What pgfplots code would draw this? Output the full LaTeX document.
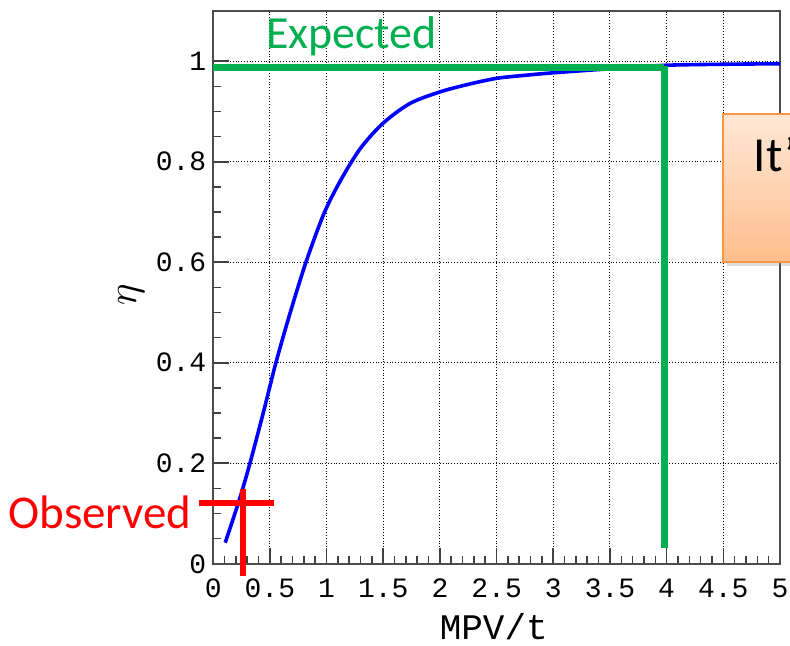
\documentclass[border=0pt]{standalone}
\usepackage{pgfplots}
\pgfplotsset{compat=1.18}
\usepackage{fontspec}
\usetikzlibrary{shadows}
\setmainfont{Carlito}
\newfontfamily\monofont{Liberation Mono}
\newfontfamily\calibri{Carlito}
\definecolor{pptgreen}{RGB}{0,176,80}
\definecolor{pptorange}{RGB}{247,150,70}
\definecolor{boxtop}{RGB}{255,232,215}
\definecolor{boxbot}{RGB}{255,190,140}
\begin{document}
\begin{tikzpicture}
\begin{axis}[
  name=ax,
  scale only axis,
  width=283.5pt, height=276.5pt,
  xmin=0, xmax=5, ymin=0, ymax=1.1,
  xtick={0,0.5,1,1.5,2,2.5,3,3.5,4,4.5,5},
  ytick={0,0.2,0.4,0.6,0.8,1},
  minor x tick num=4, minor y tick num=3,
  tick align=inside,
  xtick pos=bottom, ytick pos=left,
  major tick length=8pt, minor tick length=4pt,
  grid=major,
  major grid style={densely dotted, black, line width=0.5pt},
  axis line style={line width=1pt, black!70},
  every tick/.style={black!75, line width=0.8pt},
  clip=false,
  /pgf/number format/assume math mode=true,
  ticklabel style={font=\monofont\fontsize{14}{16}\selectfont},
  xticklabel style={yshift=-4pt},
  xlabel={MPV/t},
  xlabel style={font=\monofont\fontsize{18}{20}\selectfont, at={(axis description cs:0.495,0)}, anchor=base, yshift=-38pt},
  ylabel={$\eta$},
  ylabel style={font=\fontsize{22}{24}\selectfont, at={(axis description cs:0,0.512)}, anchor=center, yshift=41pt, xshift=-7pt},
]
\addplot[blue, line width=1.8pt, smooth, tension=0.5] coordinates {
(0.106,0.042) (0.23,0.127) (0.324,0.200) (0.441,0.300) (0.553,0.400)
(0.677,0.498) (0.818,0.600) (0.977,0.697) (1.124,0.763) (1.3,0.827)
(1.5,0.877) (1.736,0.916) (2.0,0.939) (2.25,0.954) (2.5,0.966)
(2.75,0.972) (3.0,0.977) (3.5,0.985) (4.0,0.992) (4.5,0.994) (5.0,0.995)};
\addplot[pptgreen, line width=3.5pt] coordinates {(0,0.988) (3.98,0.988)};
\addplot[pptgreen, line width=3.5pt] coordinates {(3.98,0.991) (3.98,0.032)};
\addplot[red, line width=3pt] coordinates {(-0.126,0.121) (0.536,0.121)};
\addplot[red, line width=3pt] coordinates {(0.262,0.149) (0.262,-0.024)};
\node[anchor=base, inner sep=0pt, text=pptgreen, font=\calibri\fontsize{23}{26}\selectfont] at (axis cs:1.22,1.025) {Expected};
\node[anchor=base east, inner sep=0pt, text=red, font=\calibri\fontsize{23.5}{26}\selectfont] at (axis cs:-0.188,0.070) {Observed};
\draw[pptorange, line width=1pt, top color=boxtop, bottom color=boxbot,
  drop shadow={opacity=0.25, shadow xshift=2pt, shadow yshift=-2pt}]
  (axis cs:4.501,0.600) rectangle (axis cs:5.9,0.895);
\node[anchor=base west, inner sep=0pt, font=\calibri\fontsize{24.5}{28}\selectfont] at (axis cs:4.765,0.780) {It’};
\end{axis}
\pgfresetboundingbox
\path[use as bounding box] ([shift={(-106.65pt,-41pt)}]ax.south west) rectangle ([shift={(5pt,5.5pt)}]ax.north east);
\end{tikzpicture}
\end{document}
